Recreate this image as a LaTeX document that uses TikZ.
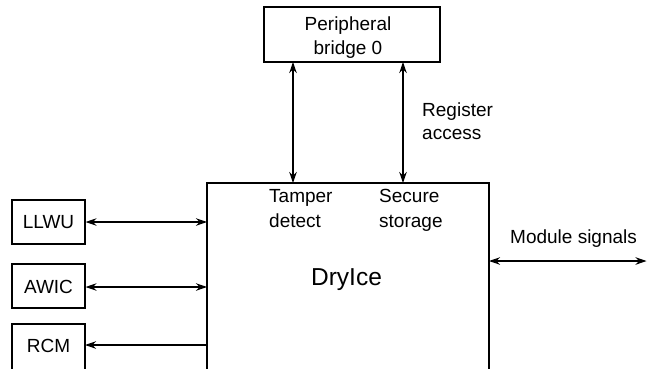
\documentclass[tikz,border=0pt]{standalone}
\usepackage{fontspec}
\setmainfont{Liberation Sans}
\usetikzlibrary{arrows.meta}
\begin{document}
\begin{tikzpicture}[x=1pt,y=-1pt,
  box/.style={draw,line width=1.1pt,inner sep=0pt},
  txt/.style={font=\fontsize{19}{25}\selectfont,inner sep=0pt},
  lbl/.style={txt,align=left,anchor=base west},
  conn/.style={line width=1.1pt,{Stealth[length=11pt,width=7.5pt,inset=3.5pt]}-{Stealth[length=11pt,width=7.5pt,inset=3.5pt]}},
  conn1/.style={line width=1.1pt,-{Stealth[length=11pt,width=7.5pt,inset=3.5pt]}}]
\useasboundingbox (0,0) rectangle (647,368);
\node[box,minimum width=176pt,minimum height=55pt] (pb) at (352,34.5) {};
\node[txt,align=center,anchor=base,font=\fontsize{19}{24}\selectfont] (pbt) at (348,54) {Peripheral\\bridge 0};
\draw[line width=1.1pt] (207,369) -- (207,183) -- (489,183) -- (489,369);
\node[txt,font=\fontsize{24.5}{25}\selectfont,anchor=base] (dry) at (346.5,285) {DryIce};
\node[lbl,font=\fontsize{19}{25.5}\selectfont] (tamper) at (269,227.5) {Tamper\\detect};
\node[lbl,font=\fontsize{19}{25.5}\selectfont] (secure) at (379,227.5) {Secure\\storage};
\node[lbl,font=\fontsize{19}{23}\selectfont] (reg) at (422,139) {Register\\access};
\node[box,minimum width=73pt,minimum height=44pt] (llwu) at (48.5,222) {};
\node[box,minimum width=73pt,minimum height=44pt] (awic) at (48.5,286) {};
\node[txt,anchor=base] at (48.5,228) {LLWU};
\node[txt,anchor=base] at (48.5,293) {AWIC};
\draw[line width=1.1pt] (12,369) |- (85,324) -- (85,369);
\node[txt,anchor=base] (rcm) at (48.5,352) {RCM};
\coordinate (rcmr) at (85,345);
\coordinate (t1) at (293,62);
\coordinate (b1) at (293,183);
\coordinate (t2) at (403,62);
\coordinate (b2) at (403,183);
\draw[conn] (t1) -- (b1);
\draw[conn] (t2) -- (b2);
\coordinate (l1) at (207,222);
\coordinate (l2) at (207,287);
\coordinate (l3) at (206,345);
\draw[conn] (llwu.east) -- (l1);
\draw[conn] (awic.east |- l2) -- (l2);
\draw[conn1] (l3) -- (rcmr);
\coordinate (ms1) at (489,261);
\coordinate (ms2) at (646.5,261);
\draw[conn] (ms1) -- (ms2);
\node[lbl] (ms) at (510,243) {Module signals};
\end{tikzpicture}
\end{document}
